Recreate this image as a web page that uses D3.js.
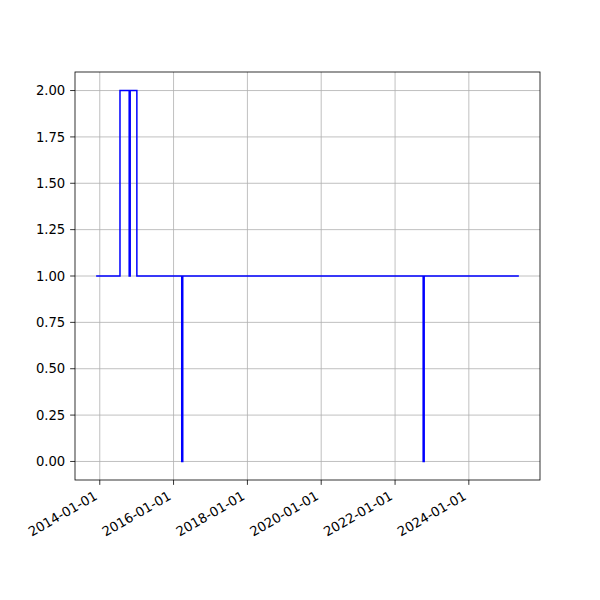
<!DOCTYPE html>
<html><head><meta charset="utf-8">
<script src="https://cdn.jsdelivr.net/npm/d3@7"></script>
<style>body{margin:0;background:#fff}svg{display:block}text{font-family:"DejaVu Sans",sans-serif}</style>
</head><body><svg id="c" width="600" height="600"></svg>
<script>
// change points of the step series (value holds until next date)
const dates = ["2013-11-26","2014-07-20","2014-10-19","2014-10-29","2015-01-03","2016-03-22","2016-04-01","2022-10-06","2022-10-16","2025-05-10"];
const values = [1,2,1,2,1,0,1,0,1,1];
const xTickLabels = ["2014-01-01","2016-01-01","2018-01-01","2020-01-01","2022-01-01","2024-01-01"];
const yTicks = [0,0.25,0.5,0.75,1,1.25,1.5,1.75,2];

const parse = d3.utcParse("%Y-%m-%d");
const data = dates.map((d,i)=>({t:parse(d), v:values[i]}));
const L=75,R=540,T=72,B=480;
const svg = d3.select("#c");
const ext = d3.extent(data,d=>d.t);
const span = ext[1]-ext[0];
const x = d3.scaleUtc().domain([new Date(+ext[0]-0.05*span), new Date(+ext[1]+0.05*span)]).range([L,R]);
const y = d3.scaleLinear().domain([-0.1,2.1]).range([B,T]);
const xt = xTickLabels.map(parse);
const fs = 13.2, tl = 4.86;

const g = svg.append("g");
// grid
g.selectAll(".gx").data(xt).enter().append("line")
 .attr("x1",d=>x(d)).attr("x2",d=>x(d)).attr("y1",T).attr("y2",B)
 .attr("stroke","#b0b0b0").attr("stroke-width",0.8);
g.selectAll(".gy").data(yTicks).enter().append("line")
 .attr("x1",L).attr("x2",R).attr("y1",d=>y(d)).attr("y2",d=>y(d))
 .attr("stroke","#b0b0b0").attr("stroke-width",0.8);
// line
const line = d3.line().x(d=>x(d.t)).y(d=>y(d.v)).curve(d3.curveStepAfter);
svg.append("path").datum(data).attr("d",line).attr("fill","none")
 .attr("stroke","#0000ff").attr("stroke-width",1.5).attr("stroke-linejoin","miter");
// frame
svg.append("rect").attr("x",L).attr("y",T).attr("width",R-L).attr("height",B-T)
 .attr("fill","none").attr("stroke","#000").attr("stroke-width",0.8);
// x ticks
svg.selectAll(".xt").data(xt).enter().append("line")
 .attr("x1",d=>x(d)).attr("x2",d=>x(d)).attr("y1",B).attr("y2",B+tl)
 .attr("stroke","#000").attr("stroke-width",0.8);
const fmt = d3.utcFormat("%Y-%m-%d");
svg.selectAll(".xl").data(xt).enter().append("text")
 .attr("transform",d=>`translate(${x(d)-1.6},${B+2*tl+8.8}) rotate(-30)`)
 .attr("text-anchor","end").attr("font-size",fs).attr("fill","#000").text(d=>fmt(d));
// y ticks
svg.selectAll(".yt").data(yTicks).enter().append("line")
 .attr("x1",L-tl).attr("x2",L).attr("y1",d=>y(d)).attr("y2",d=>y(d))
 .attr("stroke","#000").attr("stroke-width",0.8);
svg.selectAll(".yl").data(yTicks).enter().append("text")
 .attr("x",L-2*tl).attr("y",d=>y(d)).attr("dy","0.35em")
 .attr("text-anchor","end").attr("font-size",fs).attr("fill","#000").text(d=>d3.format(".2f")(d));
</script></body></html>
